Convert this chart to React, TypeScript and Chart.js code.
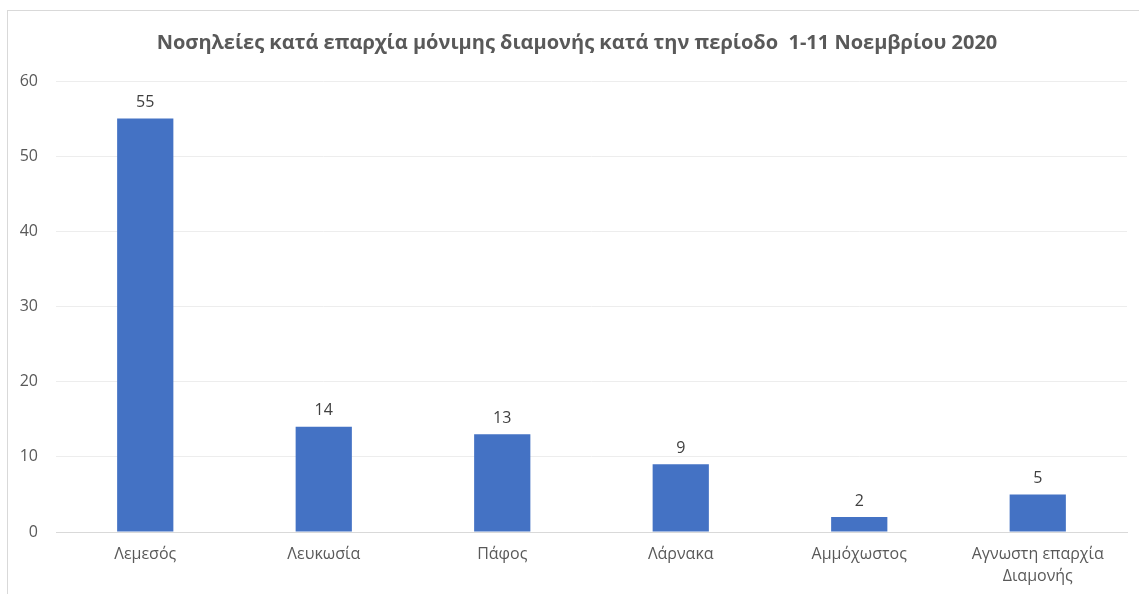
import React, { useEffect, useRef } from "react";
import { Chart, registerables } from "chart.js";

Chart.register(...registerables);

const titleText = "Νοσηλείες κατά επαρχία μόνιμης διαμονής κατά την περίοδο  1-11 Νοεμβρίου 2020";
const categories: (string | string[])[] = [
  "Λεμεσός",
  "Λευκωσία",
  "Πάφος",
  "Λάρνακα",
  "Αμμόχωστος",
  ["Αγνωστη επαρχία", "Διαμονής"],
];
const values = [55, 14, 13, 9, 2, 5];
const yTicks = [0, 10, 20, 30, 40, 50, 60];

const FONT = "'Open Sans', 'Noto Sans', sans-serif";

const labelPlugin = {
  id: "valueLabels",
  afterDatasetsDraw(chart: any) {
    const ctx = chart.ctx;
    const meta = chart.getDatasetMeta(0);
    ctx.save();
    ctx.font = `16px ${FONT}`;
    ctx.fillStyle = "#404040";
    ctx.textAlign = "center";
    ctx.textBaseline = "bottom";
    meta.data.forEach((bar: any, i: number) => {
      ctx.fillText(String(values[i]), bar.x, bar.y - 8);
    });
    ctx.restore();
  },
};

const titlePlugin = {
  id: "customTitle",
  afterDraw(chart: any) {
    const ctx = chart.ctx;
    ctx.save();
    ctx.font = `bold 20px ${FONT}`;
    ctx.fillStyle = "#595959";
    ctx.textAlign = "center";
    ctx.textBaseline = "middle";
    ctx.fillText(titleText, 577, 43);
    ctx.restore();
  },
};

export default function App() {
  const ref = useRef<HTMLCanvasElement>(null);
  useEffect(() => {
    if (!ref.current) return;
    const chart = new Chart(ref.current, {
      type: "bar",
      data: {
        labels: categories,
        datasets: [
          {
            data: values,
            backgroundColor: "#4472C4",
            barPercentage: 0.63,
            categoryPercentage: 0.5,
          },
        ],
      },
      options: {
        animation: false,
        responsive: false,
        maintainAspectRatio: false,
        layout: { padding: { left: 0, right: 12, top: 81, bottom: 0 } },
        plugins: {
          legend: { display: false },
          tooltip: { enabled: false },
          title: { display: false },
        },
        scales: {
          x: {
            grid: { display: false, drawTicks: false },
            border: { display: true, color: "#D9D9D9", width: 1 },
            ticks: {
              color: "#595959",
              font: { family: FONT, size: 16, lineHeight: 1.4 },
              padding: 11,
              maxRotation: 0,
              autoSkip: false,
            },
            afterFit: (s: any) => {
              s.height = 62;
            },
          },
          y: {
            min: 0,
            max: 60,
            grid: { color: "#EDEDED", drawTicks: false, lineWidth: 1 },
            border: { display: false },
            afterBuildTicks: (s: any) => {
              s.ticks = yTicks.map((v) => ({ value: v }));
            },
            ticks: {
              color: "#595959",
              font: { family: FONT, size: 16 },
              padding: 18,
            },
            afterFit: (s: any) => {
              s.width = 56;
            },
          },
        },
      },
      plugins: [labelPlugin, titlePlugin],
    });
    return () => chart.destroy();
  }, []);
  return (
    <div style={{ position: "fixed", left: 0, top: 0, width: 1139, height: 594, background: "#fff" }}>
      <div
        style={{
          position: "absolute",
          left: 7,
          top: 10,
          width: 1140,
          height: 600,
          border: "1px solid #D9D9D9",
          boxSizing: "border-box",
        }}
      />
      <canvas ref={ref} width={1139} height={594} style={{ position: "absolute", left: 0, top: 0 }} />
    </div>
  );
}
